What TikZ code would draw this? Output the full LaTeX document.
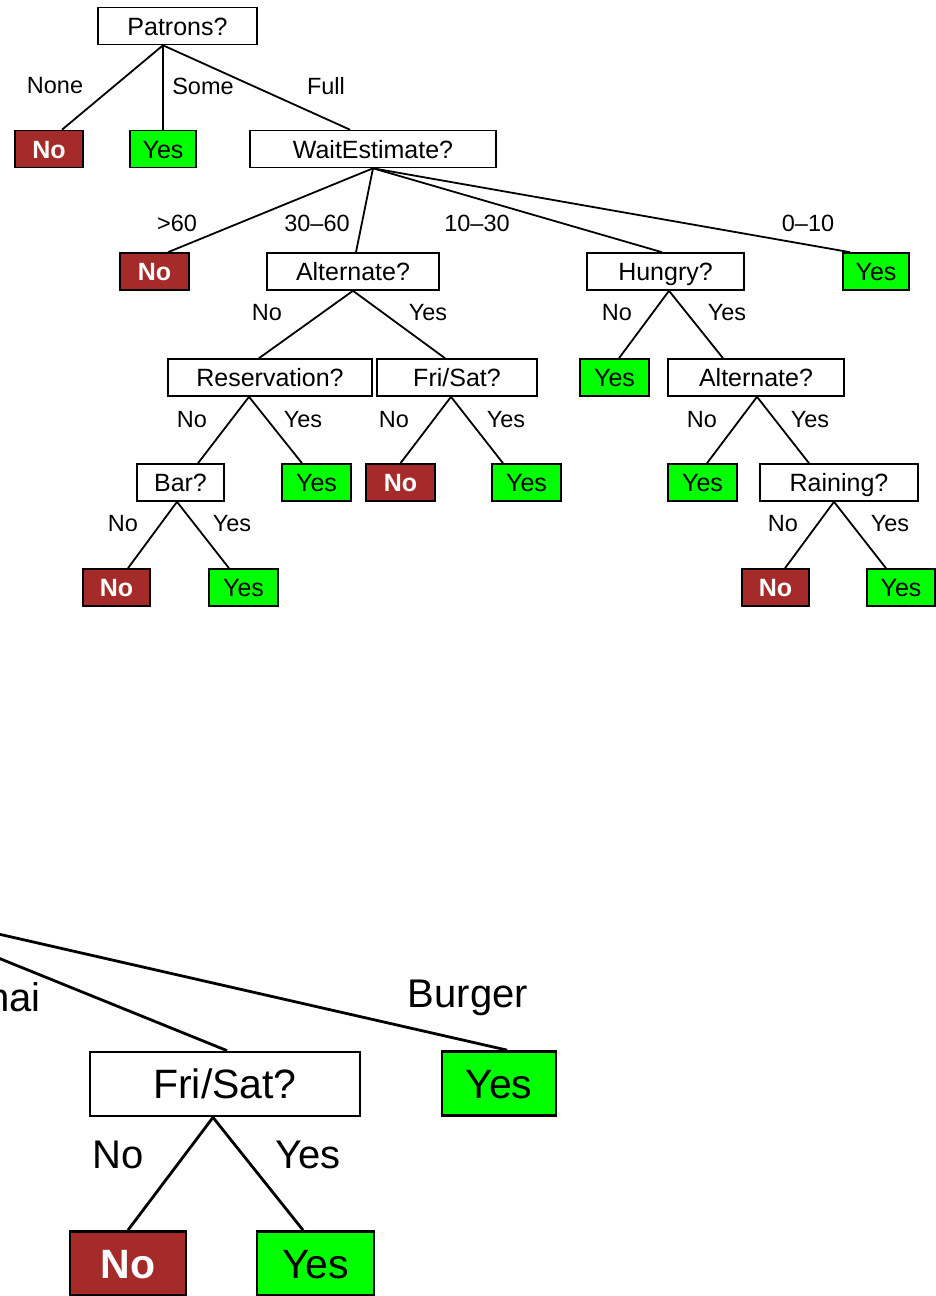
\documentclass[tikz,border=0pt]{standalone}
\usepackage{fontspec}
\setmainfont{Liberation Sans}
\definecolor{nored}{HTML}{A52A2A}
\definecolor{yesgreen}{HTML}{00FF00}
\begin{document}
\begin{tikzpicture}[x=1pt,y=-1pt,
  box/.style={draw=black, line width=1.6pt, inner sep=0pt, text height=18pt, text depth=0pt, minimum height=37pt, font=\fontsize{25}{30}\selectfont},
  qbox/.style={box, fill=white},
  nobox/.style={box, fill=nored, text=white, font=\fontsize{25}{30}\selectfont\bfseries},
  yesbox/.style={box, fill=yesgreen},
  lbl/.style={inner sep=0pt, font=\fontsize{23.5}{28}\selectfont},
  edge/.style={line width=1.8pt},
  bigbox/.style={draw=black, line width=2.8pt, inner sep=0pt, text height=29.5pt, text depth=0pt, minimum height=64pt, font=\fontsize{41}{48}\selectfont},
  bigq/.style={bigbox, fill=white},
  bigno/.style={bigbox, fill=nored, text=white, font=\fontsize{41}{48}\selectfont\bfseries},
  bigyes/.style={bigbox, fill=yesgreen},
  biglbl/.style={inner sep=0pt, font=\fontsize{40}{48}\selectfont},
  bigedge/.style={line width=2.8pt}]
\useasboundingbox (0,0) rectangle (936,1296);
\clip (0,0) rectangle (936,1296);
\fill[white] (0,0) rectangle (936,1296);

% ---------- top tree: boxes ----------
\node[qbox, minimum width=159pt] (pat) at (177.5,26) {Patrons?};
\node[nobox, minimum width=68pt] (no1) at (49,149) {No};
\node[yesbox, minimum width=66pt] (yes1) at (163,149) {Yes};
\node[qbox, minimum width=246pt] (wait) at (373,149) {WaitEstimate?};

\node[nobox, minimum width=69pt] (no2) at (154.5,271.5) {No};
\node[qbox, minimum width=172pt] (alt1) at (353,271.5) {Alternate?};
\node[qbox, minimum width=157pt] (hun) at (665.5,271.5) {Hungry?};
\node[yesbox, minimum width=66pt] (yes2) at (876,271.5) {Yes};

\node[qbox, minimum width=204pt] (res) at (270,377.5) {Reservation?};
\node[qbox, minimum width=160pt] (fri1) at (457,377.5) {Fri/Sat?};
\node[yesbox, minimum width=69pt] (yes3) at (614.5,377.5) {Yes};
\node[qbox, minimum width=176pt] (alt2) at (756,377.5) {Alternate?};

\node[qbox, minimum width=87pt] (bar) at (180.5,482.5) {Bar?};
\node[yesbox, minimum width=69pt] (yes4) at (316.5,482.5) {Yes};
\node[nobox, minimum width=69pt] (no3) at (400.5,482.5) {No};
\node[yesbox, minimum width=69pt] (yes5) at (526.5,482.5) {Yes};
\node[yesbox, minimum width=69pt] (yes6) at (702.5,482.5) {Yes};
\node[qbox, minimum width=158pt] (rain) at (839,482.5) {Raining?};

\node[nobox, minimum width=67pt] (no4) at (116.5,587.5) {No};
\node[yesbox, minimum width=69pt] (yes7) at (243.5,587.5) {Yes};
\node[nobox, minimum width=67pt] (no5) at (775.5,587.5) {No};
\node[yesbox, minimum width=68pt] (yes8) at (901,587.5) {Yes};

% ---------- top tree: edges ----------
\draw[edge] ([xshift=-14.5pt]pat.south) -- ([xshift=13pt]no1.north);
\draw[edge] ([xshift=-14.5pt]pat.south) -- (yes1.north);
\draw[edge] ([xshift=-14.5pt]pat.south) -- ([xshift=-23pt]wait.north);

\draw[edge] (wait.south) -- ([xshift=13.5pt]no2.north);
\draw[edge] (wait.south) -- ([xshift=3pt]alt1.north);
\draw[edge] (wait.south) -- ([xshift=-3.5pt]hun.north);
\draw[edge] (wait.south) -- ([xshift=-26pt]yes2.north);

\draw[edge] (alt1.south) -- ([xshift=-11pt]res.north);
\draw[edge] (alt1.south) -- ([xshift=-12pt]fri1.north);
\draw[edge] ([xshift=3.5pt]hun.south) -- ([xshift=4.5pt]yes3.north);
\draw[edge] ([xshift=3.5pt]hun.south) -- ([xshift=-33pt]alt2.north);

\draw[edge] ([xshift=-21pt]res.south) -- ([xshift=17.5pt]bar.north);
\draw[edge] ([xshift=-21pt]res.south) -- ([xshift=-14.5pt]yes4.north);
\draw[edge] ([xshift=-6pt]fri1.south) -- (no3.north);
\draw[edge] ([xshift=-6pt]fri1.south) -- ([xshift=-23.5pt]yes5.north);
\draw[edge] ([xshift=1pt]alt2.south) -- ([xshift=4.5pt]yes6.north);
\draw[edge] ([xshift=1pt]alt2.south) -- ([xshift=-30pt]rain.north);

\draw[edge] ([xshift=-3.5pt]bar.south) -- ([xshift=11.5pt]no4.north);
\draw[edge] ([xshift=-3.5pt]bar.south) -- ([xshift=-14.5pt]yes7.north);
\draw[edge] ([xshift=-5pt]rain.south) -- ([xshift=9.5pt]no5.north);
\draw[edge] ([xshift=-5pt]rain.south) -- ([xshift=-15pt]yes8.north);

% ---------- top tree: labels ----------
\node[lbl] (lNone) at (55,86) {None};
\node[lbl] (lSome) at (203,86) {Some};
\node[lbl] (lFull) at (326,86) {Full};
\node[lbl] (l60) at (177,223) {>60};
\node[lbl] (l3060) at (317,223) {30\textendash60};
\node[lbl] (l1030) at (477,223) {10\textendash30};
\node[lbl] (l010) at (808,223) {0\textendash10};
\node[lbl] (la1n) at (267,313) {No};
\node[lbl] (la1y) at (428,313) {Yes};
\node[lbl] (lhn) at (617,313) {No};
\node[lbl] (lhy) at (727,313) {Yes};
\node[lbl] (lrn) at (192,420) {No};
\node[lbl] (lry) at (303,420) {Yes};
\node[lbl] (lfn) at (394,420) {No};
\node[lbl] (lfy) at (506,420) {Yes};
\node[lbl] (la2n) at (702,420) {No};
\node[lbl] (la2y) at (810,420) {Yes};
\node[lbl] (lbn) at (123,524) {No};
\node[lbl] (lby) at (232,524) {Yes};
\node[lbl] (lrnn) at (783,524) {No};
\node[lbl] (lrny) at (890,524) {Yes};

% ---------- bottom (enlarged, cropped) fragment ----------
\coordinate (cuisine) at (-137.5,903);
\node[bigq, minimum width=270pt] (fri2) at (225,1084) {Fri/Sat?};
\node[bigyes, minimum width=114pt] (yes9) at (499,1083.5) {Yes};
\node[bigno, minimum width=116pt] (no6) at (128,1263.5) {No};
\node[bigyes, minimum width=117pt] (yes10) at (315.5,1263.5) {Yes};

\draw[bigedge] (cuisine) -- ([xshift=2pt]fri2.north);
\draw[bigedge] (cuisine) -- ([xshift=8pt]yes9.north);
\draw[bigedge] ([xshift=-12pt]fri2.south) -- (no6.north);
\draw[bigedge] ([xshift=-12pt]fri2.south) -- ([xshift=-12.5pt]yes10.north);

\node[biglbl, anchor=east] (lthai) at (41,997) {Thai};
\node[biglbl] (lburger) at (468,998) {Burger};
\node[biglbl] (lfn2) at (118,1155) {No};
\node[biglbl] (lfy2) at (308,1155) {Yes};
\end{tikzpicture}
\end{document}
